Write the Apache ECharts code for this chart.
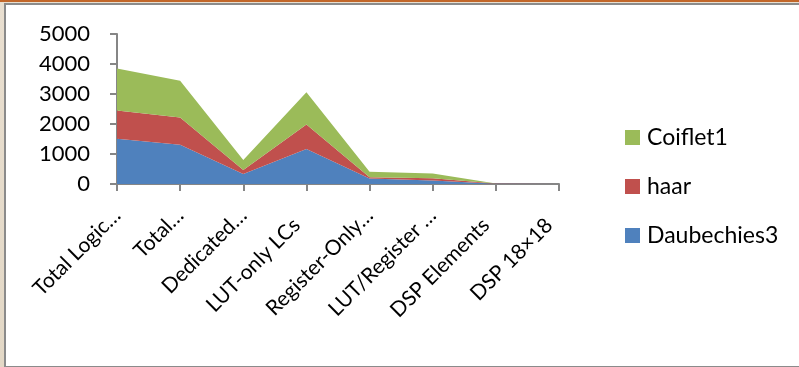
<!DOCTYPE html>
<html>
<head>
<meta charset="utf-8">
<script src="https://cdn.jsdelivr.net/npm/echarts@6/dist/echarts.min.js"></script>
<style>
  html, body { margin: 0; padding: 0; width: 799px; height: 367px; overflow: hidden; }
  body {
    background: linear-gradient(to bottom, #c2672a 0px, #c2672a 2px, #e9dfd0 2px, #e3d8c6 100%);
    position: relative;
  }
  #frame {
    position: absolute; left: 4px; top: 3px; width: 820px; height: 361px;
    border: 2px solid #8b8b8b; background: #ffffff;
  }
  #chart { position: absolute; left: 0; top: 0; width: 795px; height: 361px; }
</style>
</head>
<body>
<div id="frame"><div id="chart"></div></div>
<script>
// FPGA resource usage per wavelet implementation
const categories = ['Total Logic…', 'Total…', 'Dedicated…', 'LUT-only LCs',
                    'Register-Only…', 'LUT/Register …', 'DSP Elements', 'DSP 18×18'];
// labels that are not cut short sit centred in their slot, a little further out
const fullLabels = ['LUT-only LCs', 'DSP Elements', 'DSP 18×18'];
const daubechies3 = [1510, 1310, 335, 1170, 180, 120, 10, 0];
const haar        = [940, 910, 135, 810, 45, 70, 5, 0];
const coiflet1    = [1400, 1220, 330, 1075, 185, 160, 5, 0];
const yTicks = { min: 0, max: 5000, interval: 1000 };

const FONT = 'Lato, "Open Sans", sans-serif';
const chart = echarts.init(document.getElementById('chart'), null, { renderer: 'canvas' });

function areaSeries(name, data, color) {
  return {
    name: name,
    type: 'line',
    stack: 'total',
    data: data,
    showSymbol: false,
    symbol: 'none',
    lineStyle: { width: 0 },
    areaStyle: { color: color, opacity: 1 },
    itemStyle: { color: color },
    emphasis: { disabled: true },
    animation: false
  };
}

const xData = categories.map(function (c) {
  return fullLabels.indexOf(c) >= 0
    ? { value: c, textStyle: { padding: [0, 14, 0, 0] } }
    : c;
});

chart.setOption({
  animation: false,
  textStyle: { fontFamily: FONT },
  grid: { left: 111, top: 29, width: 442, height: 150, containLabel: false },
  legend: {
    orient: 'vertical',
    left: 614,
    top: 116,
    itemWidth: 15,
    itemHeight: 15,
    itemGap: 26,
    icon: 'rect',
    data: ['Coiflet1', 'haar', 'Daubechies3'],
    textStyle: { fontFamily: FONT, fontSize: 23, color: '#000', padding: [0, 0, 0, 2] }
  },
  xAxis: {
    type: 'category',
    data: xData,
    boundaryGap: false,
    axisLine: { show: true, lineStyle: { color: '#868686', width: 2 } },
    axisTick: { show: true, alignWithLabel: true, length: 7, lineStyle: { color: '#868686', width: 2 } },
    axisLabel: { rotate: 45, interval: 0, margin: 28, fontFamily: FONT, fontSize: 21, color: '#000' },
    splitLine: { show: false }
  },
  yAxis: {
    type: 'value',
    min: yTicks.min,
    max: yTicks.max,
    interval: yTicks.interval,
    axisLine: { show: true, lineStyle: { color: '#868686', width: 2 } },
    axisTick: { show: true, length: 7, lineStyle: { color: '#868686', width: 2 } },
    axisLabel: {
      margin: 27, fontFamily: FONT, fontSize: 22, color: '#000',
      formatter: function (v) { return String(v); }
    },
    splitLine: { show: false }
  },
  series: [
    areaSeries('Daubechies3', daubechies3, '#4f81bd'),
    areaSeries('haar', haar, '#c0504d'),
    areaSeries('Coiflet1', coiflet1, '#9bbb59')
  ]
});
</script>
</body>
</html>
